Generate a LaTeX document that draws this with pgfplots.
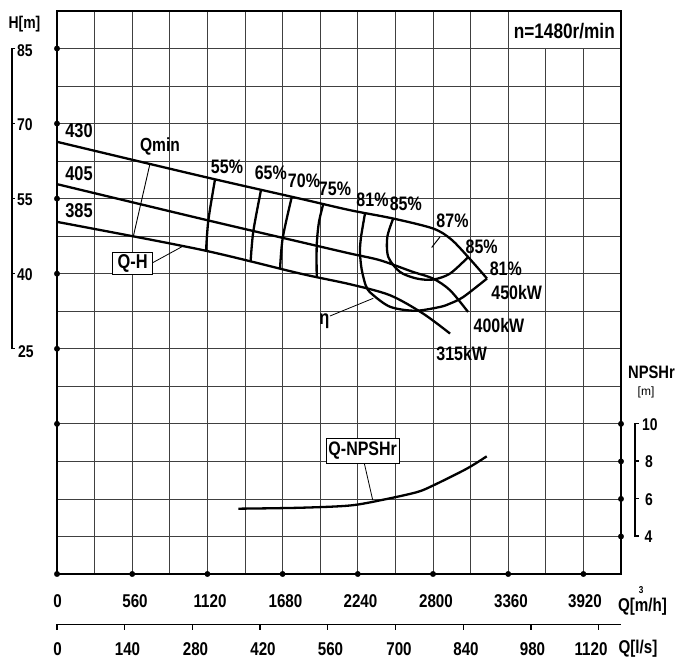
\documentclass[border=0pt]{standalone}
\usepackage{fontspec}
\setmainfont{Liberation Sans}[FakeStretch=0.82]
\newfontfamily\plainfont{Liberation Sans}
\usepackage{pgfplots}
\pgfplotsset{compat=1.18}
\newcommand{\fz}[1]{\fontsize{#1bp}{#1bp}\selectfont\bfseries}
\begin{document}
\begin{tikzpicture}
\useasboundingbox (-57bp,-85bp) rectangle (621bp,574bp);
\begin{axis}[
  at={(0,0)}, anchor=south west, scale only axis,
  width=564bp, height=563bp,
  xmin=0, xmax=4200, ymin=-20, ymax=92.5,
  xtick={0,280,...,4200}, ytick={-20,-12.5,...,92.5},
  xticklabels={}, yticklabels={},
  major tick length=0pt,
  grid=major,
  major grid style={black!75, line width=0.8bp},
  axis line style={line width=1.5bp},
  clip=false,
  curve/.style={black, line width=2.3bp, no marks},
]
% Q-H curves (impeller diameters 430, 405, 385)
\addplot[curve, smooth] coordinates {(0,66.36)(1065,59.56)(1810,55.0)(2182,52.7)(2502,51.04)(2800,49.04)(2934,46.9)(3061,43.36)(3202,39.04)};
\addplot[curve, smooth] coordinates {(0,57.9)(1065,51.04)(1810,46.36)(2182,44.04)(2405,42.7)(2651,40.36)(2800,39.04)(2927,36.7)(3061,32.36)};
\addplot[curve, smooth] coordinates {(0,50.36)(1065,44.84)(1810,40.04)(2182,37.9)(2480,35.7)(2726,32.04)(2927,28.04)};
% iso-efficiency lines
\addplot[curve, smooth] coordinates {(1177,58.9)(1127,50.65)(1110,44.6)};
\addplot[curve, smooth] coordinates {(1519,56.7)(1462,48.5)(1442,42.5)};
\addplot[curve, smooth] coordinates {(1748,55.3)(1681,47.17)(1661,41.0)};
\addplot[curve, smooth] coordinates {(1983,53.95)(1950,50.2)(1934,45.6)(1934,39.3)};
% 81% loop
\addplot[curve, smooth] coordinates {(2294,52.1)(2265,47.5)(2256,44.5)(2268,41.0)(2300,37.6)(2343,36.0)(2480,33.4)(2666,32.6)(2852,33.36)(2927,34.04)(3026,35.36)(3202,39.04)};
% 85% loop
\addplot[curve, smooth] coordinates {(2504,51.04)(2460,47.36)(2467,43.36)(2554,40.36)(2679,39.04)(2802,38.84)(2927,40.04)(3063,43.36)};
% 87% mark
\addplot[black, line width=1bp] coordinates {(2790,45.24)(2852,47.36)};
% Qmin line
\addplot[black, line width=0.9bp] coordinates {(692,61.94)(568,47.42)};
% axis dots
\addplot[only marks, mark=*, mark size=2.7bp, black] coordinates {(0,85)(0,70)(0,55)(0,40)(0,25)(0,10)(0,-20)(560,-20)(1120,-20)(1680,-20)(2240,-20)(2800,-20)(3360,-20)(3920,-20)};
\end{axis}
\begin{axis}[
  at={(0,0)}, anchor=south west, scale only axis,
  width=564bp, height=563bp,
  xmin=0, xmax=4200, ymin=2, ymax=32,
  hide axis, clip=false,
]
\addplot[black, line width=2.3bp, smooth, no marks] coordinates {(1350,5.48)(1810,5.53)(2182,5.65)(2430,5.96)(2679,6.36)(2802,6.72)(3051,7.61)(3200,8.27)};
\addplot[only marks, mark=*, mark size=2.7bp, black] coordinates {(4200,10)(4200,8)(4200,6)(4200,4)};
\end{axis}
\begin{scope}[x=1bp, y=-1bp, shift={(-57bp,574bp)}]
% speed box
\fill[white] (509,12) rectangle (620,48);
\node[font=\fz{21}, inner sep=0] at (564.3,31) {n=1480r/min};
% left H scale
\draw[line width=1.3bp] (15.5,48.5) -- (12,48.5) -- (12,348.5) -- (15.5,348.5);
\foreach \yy in {123.5,198.5,273.5} \draw[line width=1.3bp] (12,\yy) -- (15.5,\yy);
\node[font=\fz{17}, inner sep=0] at (24.5,24) {H[m]};
\node[font=\fz{17}, inner sep=0] at (25,50.5) {85};
\node[font=\fz{17}, inner sep=0] at (25,125) {70};
\node[font=\fz{17}, inner sep=0] at (25,199.5) {55};
\node[font=\fz{17}, inner sep=0] at (25,275) {40};
\node[font=\fz{17}, inner sep=0] at (26,352) {25};
% right NPSHr scale
\draw[line width=1.3bp] (638.5,423.5) -- (635,423.5) -- (635,536) -- (638.5,536);
\foreach \yy in {461,498.5} \draw[line width=1.3bp] (635,\yy) -- (638.5,\yy);
\node[font=\fz{18}, inner sep=0] at (651.5,372.5) {NPSHr};
\node[font=\plainfont\fontsize{12bp}{12bp}\selectfont, inner sep=0] at (646,392) {[m]};
\node[font=\fz{17}, inner sep=0] at (650,424.5) {10};
\node[font=\fz{17}, inner sep=0] at (649,462) {8};
\node[font=\fz{17}, inner sep=0] at (649,499.5) {6};
\node[font=\fz{17}, inner sep=0] at (648.5,537) {4};
% bottom m3/h labels
\foreach \px/\lab in {57.5/0,135/560,210/1120,285.5/1680,360.5/2240,436/2800,511/3360,585/3920}
  \node[font=\fz{18.5}, inner sep=0] at (\px,601) {\lab};
\node[font=\fz{18.5}, inner sep=0] at (642.5,601) {Q[\makebox[0pt][l]{\raisebox{0.95em}{\hspace{0.22em}\fontsize{10bp}{10bp}\selectfont 3}}m/h]};
% l/s axis
\draw[line width=1.5bp] (57,624.3) -- (621,624.3);
\foreach \px in {57,124.7,192.4,260.1,327.8,395.5,463.2,530.9,598.6}
  \draw[line width=1.3bp] (\px,624.3) -- (\px,630);
\foreach \px/\lab in {57.5/0,127.5/140,195.5/280,263/420,330.5/560,399/700,466/840,532.5/980,591/1120}
  \node[font=\fz{18.5}, inner sep=0] at (\px,649) {\lab};
\node[font=\fz{18.5}, inner sep=0] at (638,648.5) {Q[l/s]};
% curve labels
\node[font=\fz{20}, inner sep=0] at (79,130.5) {430};
\node[font=\fz{20}, inner sep=0] at (79,174) {405};
\node[font=\fz{20}, inner sep=0] at (79,211) {385};
\node[font=\fz{19}, inner sep=0] at (160,146) {Qmin};
\node[font=\fz{19.5}, inner sep=0] at (227,166.5) {55\%};
\node[font=\fz{19.5}, inner sep=0] at (270.8,173) {65\%};
\node[font=\fz{19.5}, inner sep=0] at (304,180.5) {70\%};
\node[font=\fz{19.5}, inner sep=0] at (335,189) {75\%};
\node[font=\fz{19.5}, inner sep=0] at (372.5,200) {81\%};
\node[font=\fz{19.5}, inner sep=0] at (405.8,204) {85\%};
\node[font=\fz{19.5}, inner sep=0] at (452.5,221) {87\%};
\node[font=\fz{19.5}, inner sep=0] at (481.7,246.3) {85\%};
\node[font=\fz{19.5}, inner sep=0] at (505.8,269) {81\%};
\node[font=\fz{19.5}, inner sep=0] at (516.7,292.5) {450kW};
\node[font=\fz{19.5}, inner sep=0] at (499,326) {400kW};
\node[font=\fz{19.5}, inner sep=0] at (461.7,354) {315kW};
% eta
\draw[line width=0.8bp] (330,316) -- (373.3,298.3);
\node[font=\fz{20}, inner sep=0] at (324.5,321) {η};
% Q-H box
\draw[line width=0.8bp] (152.7,262.7) -- (183.3,246);
\node[draw, fill=white, line width=0.6bp, font=\fz{20}, minimum width=40bp, minimum height=22bp, inner sep=0] at (132.7,263) {Q-H};
% Q-NPSHr box
\draw[line width=0.8bp] (364.3,463.3) -- (372.7,500);
\node[draw, fill=white, line width=0.6bp, font=\fz{19.5}, minimum width=73bp, minimum height=25bp, inner sep=0] at (362.7,450.8) {Q-NPSHr};
\end{scope}
\end{tikzpicture}
\end{document}
